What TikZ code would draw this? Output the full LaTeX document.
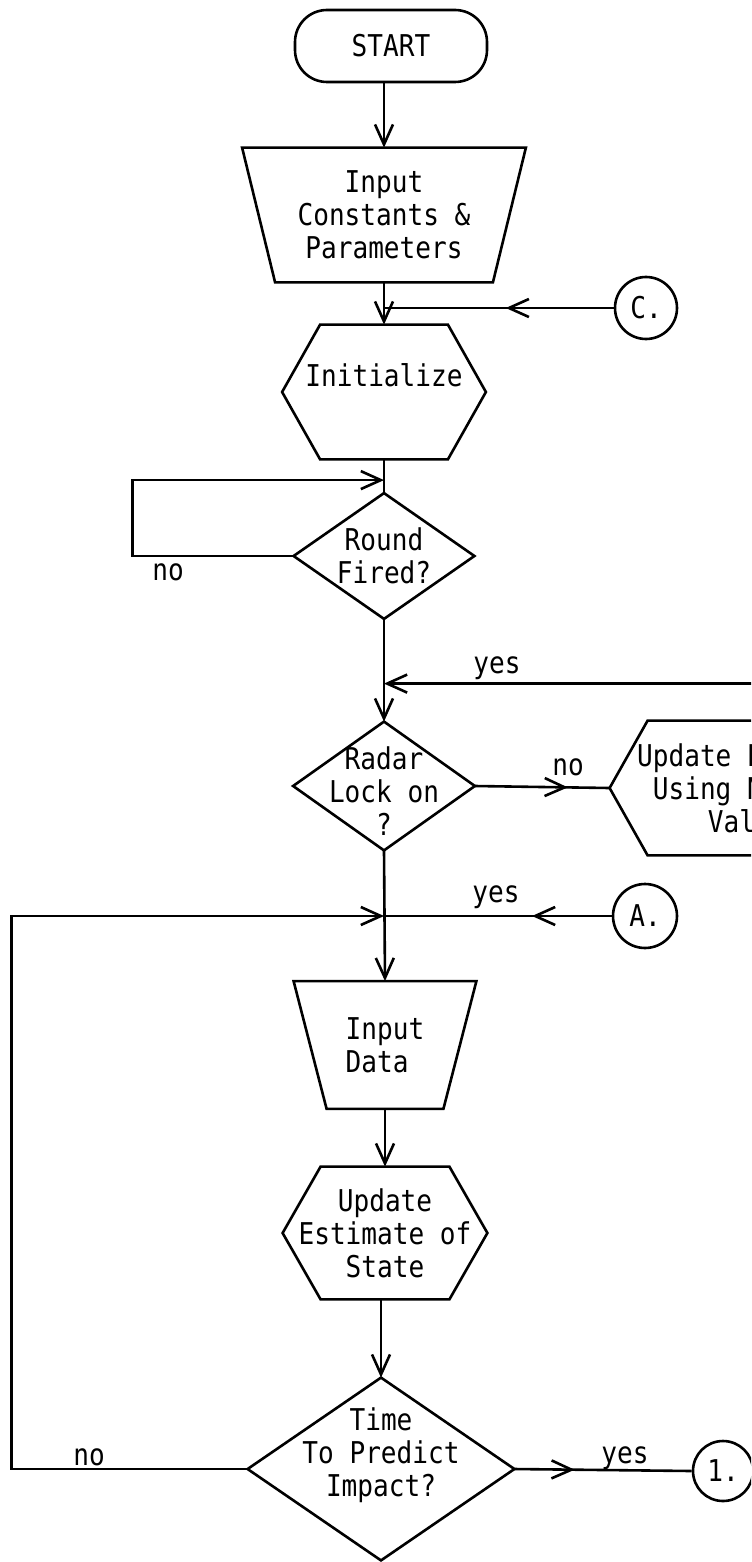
\documentclass[tikz,border=0pt]{standalone}
\usepackage{fontspec}
\usetikzlibrary{arrows.meta,decorations.markings,calc}
\newfontfamily\twfont[FakeStretch=0.87]{DejaVu Sans Mono}
\begin{document}
\begin{tikzpicture}[x=0.5pt,y=-0.5pt,
  every node/.style={font=\twfont\fontsize{15}{16.5}\selectfont, inner sep=0pt},
  ln/.style={line width=1.3pt},
  arr/.style={-{Straight Barb[length=10pt,width=9pt]}},
  marr/.style={postaction={decorate}, decoration={markings, mark=at position #1 with {\arrow[line width=1.3pt]{Straight Barb[length=10pt,width=9pt]}}}},
  holder/.style 2 args={minimum width=#1*0.5pt, minimum height=#2*0.5pt},
  circ/.style={draw, ln, circle, minimum size=#1*0.5pt}]
\useasboundingbox (0,0) rectangle (751,1562);
\clip (0,0) rectangle (751,1562);

% START
\node[draw, ln, rounded corners=16pt, minimum width=96pt, minimum height=36pt] (start) at (391,46) {START};

% Input constants
\node[holder={283}{134}, align=center] (inp) at (384,215) {Input\\Constants \&\\Parameters};
\draw[ln] (inp.north west) -- (inp.north east) -- ([xshift=-16.5pt]inp.south east) -- ([xshift=16.5pt]inp.south west) -- cycle;
\draw[ln,arr] (start.south -| inp.north) -- (inp.north);

% C connector
\node[circ=62] (C) at (646,308) {C.};
\coordinate (j1) at (inp.south |- C.west);

% Initialize
\node[holder={203}{134}, align=center] (init) at (384,392) {Initialize\\\mbox{}};
\draw[ln] (init.west) -- ([xshift=19pt]init.north west) -- ([xshift=-19pt]init.north east) -- (init.east) -- ([xshift=-19pt]init.south east) -- ([xshift=19pt]init.south west) -- cycle;
\draw[ln,arr] (inp.south) -- (init.north);
\draw[ln,marr=0.47] (C.west) -- (j1);

% Round fired
\node[holder={180}{125}, align=center] (round) at (384,556) {Round\\Fired?};
\draw[ln] (round.north) -- (round.east) -- (round.south) -- (round.west) -- cycle;
\draw[ln] (init.south) -- (round.north);
\coordinate (j0) at ($(round.north)+(0,-13)$);
\draw[ln,arr] (round.west) -- ++(-161,0) |- (j0);
\node (no1) at (168,572) {no};

% Radar lock
\node[holder={181}{128}, align=center] (radar) at (384,786) {\mbox{}\\Radar\\Lock on\\?};
\draw[ln] (radar.north) -- (radar.east) -- (radar.south) -- (radar.west) -- cycle;
\draw[ln,arr] (round.south) -- (radar.north);
\coordinate (j2) at ($(radar.north)+(0,-38)$);

% Update using nominal values (clipped at right)
\node[holder={290}{134}, align=center] (upd) at (755,788) {Update Estimate\\Using Nominal\\Values};
\draw[ln] (upd.west) -- ([xshift=19pt]upd.north west) -- ([xshift=-19pt]upd.north east) -- (upd.east) -- ([xshift=-19pt]upd.south east) -- ([xshift=19pt]upd.south west) -- cycle;
\draw[ln,marr=0.69] (radar.east) -- (upd.west);
\node (no2) at (568,767) {no};
\draw[ln,arr] (upd.north) |- (j2);
\node (yes1) at (497,668) {yes};

% A connector
\node[circ=64] (A) at (645,916) {A.};
\coordinate (j3) at (radar.south |- A.west);

% Input data
\node[holder={182}{127}, align=left] (data) at (385,1045) {Input\\Data};
\draw[ln] (data.north west) -- (data.north east) -- ([xshift=-16.5pt]data.south east) -- ([xshift=16.5pt]data.south west) -- cycle;
\draw[ln,arr] (radar.south) -- (data.north);
\draw[ln,marr=0.35] (A.west) -- (j3);
\node (yes2) at (496,897) {yes};

% Update estimate of state
\node[holder={204}{132}, align=center] (est) at (385,1233) {Update\\Estimate of\\State};
\draw[ln] (est.west) -- ([xshift=19pt]est.north west) -- ([xshift=-19pt]est.north east) -- (est.east) -- ([xshift=-19pt]est.south east) -- ([xshift=19pt]est.south west) -- cycle;
\draw[ln,arr] (data.south) -- (est.north);

% Time to predict impact
\node[holder={266}{182}, align=center] (time) at (381,1469) {Time\\To Predict\\Impact?\\\mbox{}};
\draw[ln] (time.north) -- (time.east) -- (time.south) -- (time.west) -- cycle;
\draw[ln,arr] (est.south -| time.north) -- (time.north);
\draw[ln,arr] (time.west) -- ++(-236,0) |- (j3);
\node (no3) at (89,1457) {no};

% 1. connector
\node[circ=60] (one) at (723,1471) {1.};
\draw[ln,marr=0.34] (time.east) -- (one.west);
\node (yes3) at (625,1458) {yes};
\end{tikzpicture}
\end{document}
